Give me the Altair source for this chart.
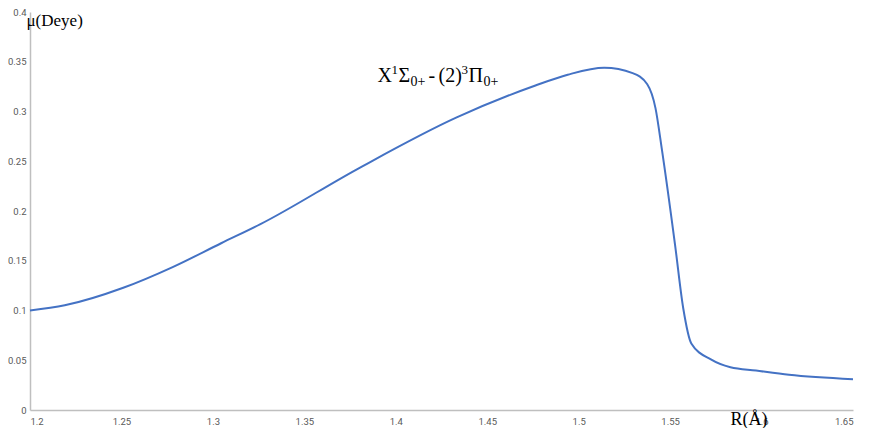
import altair as alt
import pandas as pd

# Dipole moment curve
r_values = [1.200, 1.219, 1.251, 1.278, 1.3045, 1.326, 1.3795, 1.433, 1.476, 1.494,
            1.514, 1.5295, 1.5375, 1.542, 1.5455, 1.5527, 1.5572, 1.5616, 1.5723,
            1.583, 1.597, 1.615, 1.650]
mu_values = [0.1000, 0.1052, 0.1228, 0.1436, 0.1676, 0.1868, 0.2427, 0.2938, 0.3259, 0.3370,
             0.3440, 0.3386, 0.3274, 0.3034, 0.2619, 0.1660, 0.1020, 0.0669, 0.0508,
             0.0429, 0.0396, 0.0355, 0.0310]

x_ticks = [1.2, 1.25, 1.3, 1.35, 1.4, 1.45, 1.5, 1.55, 1.6, 1.65]
y_ticks = [0, 0.05, 0.1, 0.15, 0.2, 0.25, 0.3, 0.35, 0.4]

label_x = 1.39
label_y = 0.33
# pieces of the state label  X¹Σ0+ - (2)³Π0+
label_parts = ["X", "1", "Σ", "0+", "-", "(2)", "3", "Π", "0+"]

df = pd.DataFrame({"R": r_values, "mu": mu_values})

x_scale = alt.Scale(domain=[1.2, 1.65], nice=False, zero=False)
y_scale = alt.Scale(domain=[0, 0.4], nice=False)

line = alt.Chart(df).mark_line(color="#4472C4", strokeWidth=2, interpolate="monotone").encode(
    x=alt.X("R:Q", scale=x_scale,
            axis=alt.Axis(values=x_ticks, format=".2~f", title="R(Å)",
                          titleX=700, titleY=14, titleAngle=0, titleAlign="left",
                          titleBaseline="alphabetic", titleFont="Liberation Serif",
                          titleFontSize=18, titleFontWeight="normal", titleColor="#000000",
                          labelPadding=6)),
    y=alt.Y("mu:Q", scale=y_scale,
            axis=alt.Axis(values=y_ticks, format=".2~f", title="μ(Deye)",
                          titleX=-4, titleY=13, titleAngle=0, titleAlign="left",
                          titleBaseline="alphabetic", titleFont="Liberation Serif",
                          titleFontSize=17, titleFontWeight="normal", titleColor="#000000",
                          labelPadding=4)),
)

layout = [(0, 0, 20), (14, -8, 13), (21, 0, 20), (33, 4, 14), (51, 0, 20),
          (61, 0, 20), (84, -8, 13), (91, 0, 20), (106, 4, 14)]

layers = [line]
for text, (dx, dy, size) in zip(label_parts, layout):
    layers.append(
        alt.Chart(pd.DataFrame({"R": [label_x], "mu": [label_y], "t": [text]}))
        .mark_text(align="left", baseline="alphabetic", font="Liberation Serif",
                   fontSize=size, color="#000000", dx=dx, dy=dy)
        .encode(x=alt.X("R:Q", scale=x_scale), y=alt.Y("mu:Q", scale=y_scale), text="t:N")
    )

chart = alt.layer(*layers).properties(
    width=823, height=398,
    autosize=alt.AutoSizeParams(type="none"),
    padding={"left": 22, "top": 4, "right": 11, "bottom": 18},
).configure_view(stroke=None).configure_axis(
    grid=False, ticks=False, domainColor="#bfbfbf", domainWidth=1.5,
    labelFont="Roboto", labelFontSize=9.5, labelColor="#595959",
)

chart.save("out.html", embed_options={"renderer": "svg", "actions": False})
